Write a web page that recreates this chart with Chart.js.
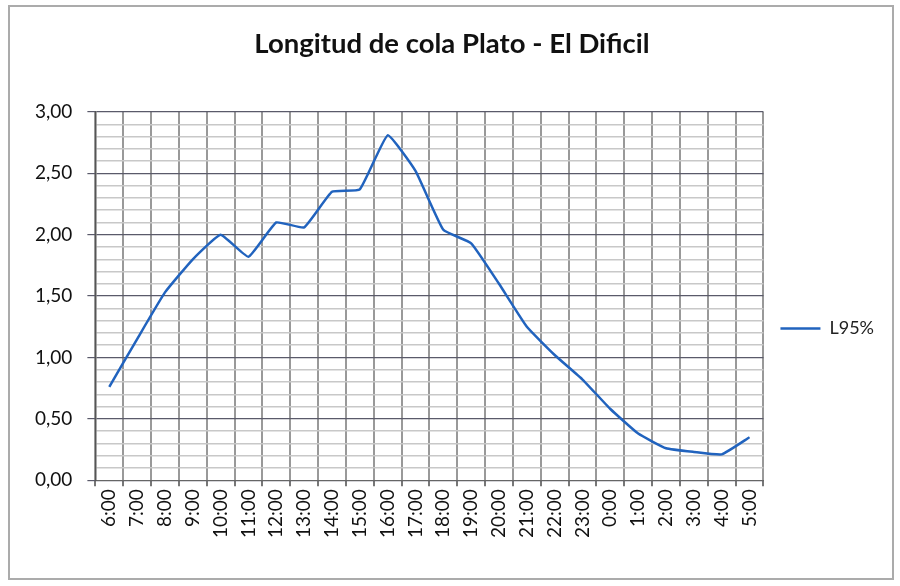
<!DOCTYPE html>
<html lang="es">
<head>
    <meta charset="UTF-8">
    <title>Longitud de cola Plato - El Dificil</title>
    <script src="https://cdn.jsdelivr.net/npm/chart.js@4.4.1/dist/chart.umd.min.js"></script>
    <style>
        body { margin: 0; background: #fff; }
        #marco {
            position: absolute; left: 8px; top: 5px; width: 886px; height: 575px;
            border: 2px solid #ababab; box-sizing: border-box;
        }
        #contenedor { position: absolute; left: 0; top: 0; width: 900px; height: 586px; }
    </style>
</head>
<body>
    <div id="marco"></div>
    <div id="contenedor"><canvas id="grafico"></canvas></div>

    <script>
        // Datos
        const horas = ['6:00', '7:00', '8:00', '9:00', '10:00', '11:00', '12:00', '13:00', '14:00', '15:00',
            '16:00', '17:00', '18:00', '19:00', '20:00', '21:00', '22:00', '23:00', '0:00', '1:00',
            '2:00', '3:00', '4:00', '5:00'];
        const l95 = [0.76, 1.15, 1.53, 1.80, 2.00, 1.82, 2.10, 2.06, 2.35, 2.37,
            2.81, 2.52, 2.04, 1.93, 1.60, 1.25, 1.02, 0.82, 0.58, 0.38,
            0.26, 0.23, 0.21, 0.35];
        const etiquetasY = [0, 0.5, 1, 1.5, 2, 2.5, 3];

        const fuente = 'Lato, "Liberation Sans", sans-serif';

        function esMayor(v) {
            return etiquetasY.some(e => Math.abs(e - v) < 1e-6);
        }

        const ctx = document.getElementById('grafico').getContext('2d');
        new Chart(ctx, {
            type: 'line',
            data: {
                labels: horas,
                datasets: [{
                    label: 'L95%',
                    data: l95,
                    borderColor: '#2163be',
                    backgroundColor: '#2163be',
                    borderWidth: 2.5,
                    pointRadius: 0,
                    tension: 0.12,
                    fill: false
                }]
            },
            options: {
                responsive: true,
                maintainAspectRatio: false,
                animation: false,
                layout: { padding: { left: 20, right: 16, top: 0, bottom: 45 } },
                plugins: {
                    title: {
                        display: true,
                        text: 'Longitud de cola Plato - El Dificil',
                        color: '#111',
                        font: { family: fuente, size: 27.5, weight: 'bold' },
                        padding: { top: 28, bottom: 51 }
                    },
                    legend: {
                        position: 'right',
                        title: {
                            display: true,
                            text: ' ',
                            font: { size: 10 },
                            padding: { top: 104, bottom: 0 }
                        },
                        labels: {
                            usePointStyle: true,
                            pointStyle: 'line',
                            pointStyleWidth: 40,
                            padding: 17,
                            color: '#222',
                            font: { family: fuente, size: 18 }
                        }
                    },
                    tooltip: { enabled: false }
                },
                scales: {
                    x: {
                        offset: true,
                        grid: {
                            offset: true,
                            color: '#999',
                            lineWidth: 2,
                            tickLength: 6,
                            tickColor: '#777'
                        },
                        border: { color: '#666', width: 1 },
                        ticks: {
                            minRotation: 90,
                            maxRotation: 90,
                            autoSkip: false,
                            padding: 3,
                            color: '#111',
                            font: { family: fuente, size: 19 }
                        }
                    },
                    y: {
                        min: 0,
                        max: 3,
                        grid: {
                            color: c => esMayor(c.tick.value) ? '#5a5a6a' : '#c8c8c8',
                            lineWidth: c => esMayor(c.tick.value) ? 1.2 : 1.5,
                            tickLength: 8,
                            tickColor: c => esMayor(c.tick.value) ? '#5a5a6a' : 'rgba(0,0,0,0)'
                        },
                        border: { color: '#555', width: 1.5 },
                        ticks: {
                            stepSize: 0.1,
                            autoSkip: false,
                            padding: 15,
                            color: '#111',
                            font: { family: fuente, size: 19 },
                            callback: v => esMayor(v) ? v.toFixed(2).replace('.', ',') : ''
                        }
                    }
                }
            }
        });
    </script>
</body>
</html>
